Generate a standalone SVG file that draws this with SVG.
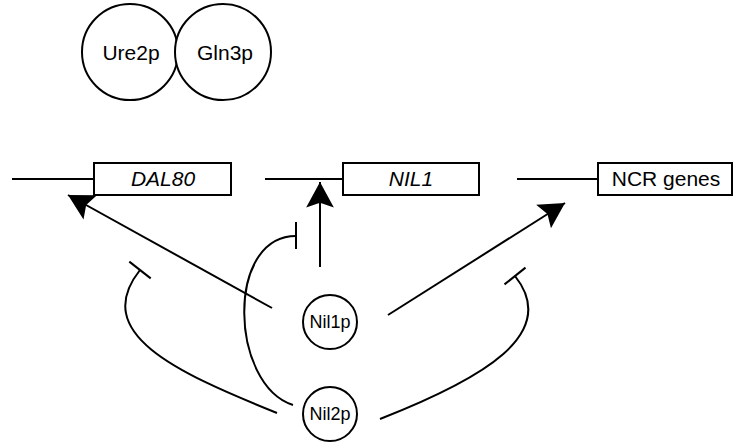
<svg xmlns="http://www.w3.org/2000/svg" width="734" height="448" viewBox="0 0 734 448">
<defs>
<style>
.c{fill:#fff;stroke:#000;stroke-width:2}
.b{fill:#fff;stroke:#000;stroke-width:2}
.ln{fill:none;stroke:#000;stroke-width:2}
.t{font-family:"Liberation Sans",Arial,sans-serif;font-size:21px;fill:#000;text-anchor:middle}
.ti{font-style:italic}
.s{font-size:18px}
</style>
<marker id="ah" markerUnits="userSpaceOnUse" markerWidth="30" markerHeight="30" viewBox="-24 -13 26 26" refX="0" refY="0" orient="auto">
<path d="M0,0 L-22,-12 L-18,0 L-22,12 Z" fill="#000"/>
</marker>
</defs>
<rect width="734" height="448" fill="#fff"/>
<g id="ure2p"><circle class="c" cx="130" cy="52" r="48"/><text class="t" x="131" y="60">Ure2p</text></g>
<g id="gln3p"><circle class="c" cx="223" cy="52" r="48"/><text class="t" x="225" y="60">Gln3p</text></g>
<g id="dal80"><line class="ln" x1="12" y1="179" x2="94" y2="179"/><rect class="b" x="94" y="163" width="137" height="32"/><text class="t ti" x="163" y="186">DAL80</text></g>
<g id="nil1"><line class="ln" x1="265" y1="179" x2="343" y2="179"/><rect class="b" x="343" y="163" width="136" height="32"/><text class="t ti" x="411" y="186">NIL1</text></g>
<g id="ncr"><line class="ln" x1="517" y1="179" x2="598" y2="179"/><rect class="b" x="598" y="163" width="134" height="32"/><text class="t" x="666" y="186">NCR genes</text></g>
<g id="connectors">
<line class="ln" x1="272" y1="308" x2="68" y2="195" marker-end="url(#ah)"/>
<line class="ln" x1="320" y1="267" x2="320" y2="182" marker-end="url(#ah)"/>
<line class="ln" x1="388" y1="315" x2="565" y2="203" marker-end="url(#ah)"/>
<path class="ln" d="M293,405 C230,385 225,236 296,236"/>
<line class="ln" x1="296" y1="222" x2="296" y2="249"/>
<path class="ln" d="M277,413 C175,372 90,333 140,270"/>
<line class="ln" x1="129.3" y1="261.6" x2="150.7" y2="278.4"/>
<path class="ln" d="M380,419 C482,379 561,334 515,276"/>
<line class="ln" x1="504.5" y1="284.4" x2="525.5" y2="267.6"/>
</g>
<g id="nil1p"><circle class="c" cx="330" cy="322" r="27"/><text class="t s" x="330" y="328">Nil1p</text></g>
<g id="nil2p"><circle class="c" cx="330" cy="414" r="27"/><text class="t s" x="330" y="420">Nil2p</text></g>
</svg>
